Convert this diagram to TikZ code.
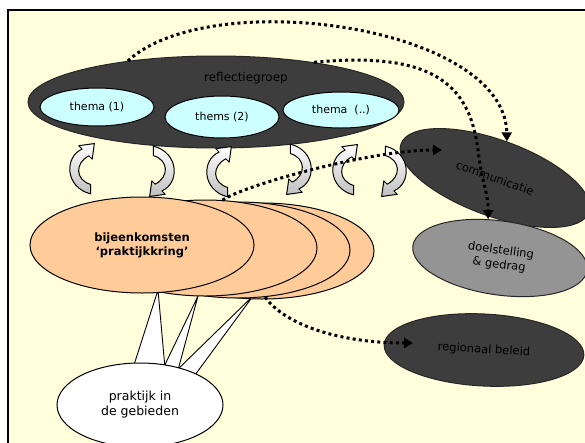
\documentclass[tikz,border=0pt]{standalone}
\usepackage{fontspec}
\setmainfont{DejaVu Sans}
\usetikzlibrary{shapes.geometric,arrows.meta}
\definecolor{paper}{HTML}{FFFFDC}
\definecolor{peach}{HTML}{FFCC99}
\definecolor{ice}{HTML}{CCFFFF}
\definecolor{ribbon}{HTML}{C0C0C0}

\begin{document}
\begin{tikzpicture}[x=1pt,y=-1pt,
    oval/.style={ellipse,draw,line width=1pt,inner sep=0pt,align=center},
    dark/.style={oval,draw=black!85,fill=black!76,font=\fontsize{11.5}{14}\selectfont},
    theme/.style={oval,fill=ice,minimum width=114pt,minimum height=38pt,font=\fontsize{11}{13}\selectfont},
    kring/.style={oval,fill=peach,minimum width=224pt,minimum height=96pt},
    dotline/.style={line width=3pt,dash pattern=on 3pt off 3.2pt,-{Triangle[length=9pt,width=10pt]}},
    wedge/.style={fill=white,draw,line width=0.9pt,line join=round},
    pics/twist/.style 2 args={code={
        \draw[line width=1pt,line join=round,top color=#1,bottom color=#2] (14,48.5) .. controls (-11,42) and (-11,13) .. (5.8,5.8)
            -- (2.6,2.6) -- (17.5,0.5) -- (15.4,15.4) -- (12.2,12.2) .. controls (-1,19) and (-1,35) .. (14,39.5) -- cycle;
    }}
]
\useasboundingbox (0,0) rectangle (585,442);
\fill[white] (0,0) rectangle (585,442);
\fill[paper] (8,10) rectangle (590,450);
\draw[line width=1.6pt] (8,450) -- (8,10) -- (590,10);

% reflection group with its themes
\node[dark,minimum width=376pt,minimum height=92pt] (refl) at (216,102) {};
\node[font=\fontsize{12}{14}\selectfont] (refltxt) at (246,78) {reflectiegroep};
\node[theme] (t1) at (97,107) {thema (1)};
\node[theme,minimum height=42pt] (t2) at (222,117) {thems (2)};
\node[theme,minimum width=116pt,minimum height=36pt] (t3) at (341,110) {thema \ (..)};

% outputs on the right
\node[dark,minimum width=200pt,minimum height=76pt,rotate=-20] (comm) at (495,178) {communicatie};
\node[dark,fill=black!42,minimum width=176pt,minimum height=74pt,rotate=-8] (doel) at (500,258) {doelstelling\\\& gedrag};
\node[dark,minimum width=200pt,minimum height=72pt,rotate=-3] (beleid) at (484,350) {regionaal beleid};
\coordinate (commin) at (442,150);
\coordinate (belin) at (413,343);

% links to the practice
\draw[wedge] (253,296) -- (175,372) -- (195,375) -- cycle;
\draw[wedge] (198,296) -- (160,375) -- (178,370) -- cycle;
\draw[wedge] (158,290) -- (133,368) -- (165,368) -- cycle;

% meetings
\node[kring] (pk4) at (262,251) {};
\node[kring] (pk3) at (238,250) {};
\node[kring] (pk2) at (205,248) {};
\node[kring,font=\bfseries\fontsize{11.5}{14}\selectfont] (pk1) at (142,245) {bijeenkomsten\\‘praktijkkring’};

\node[oval,fill=white,minimum width=166pt,minimum height=84pt,font=\fontsize{12.5}{15}\selectfont] (prak) at (140,405) {praktijk in\\de gebieden};

% exchange between group and meetings
\pic[scale=1.05] at (76,143) {twist={white}{ribbon}};
\pic[scale=1.05,rotate=180] at (168,197) {twist={white}{ribbon}};
\pic[scale=1.05] at (213,146) {twist={white}{ribbon}};
\pic[scale=1.05,rotate=180] at (305,195) {twist={white}{ribbon}};
\pic[scale=1.05] at (339,144) {twist={white}{ribbon}};
\pic[scale=1.05,rotate=180] at (400,197) {twist={white}{ribbon}};

\draw[dotline] (refl.155) .. controls (210,-15) and (505,25) .. (comm.92);
\draw[dotline] (refl.22) .. controls (440,50) and (470,90) .. (478,150) .. controls (482,185) and (488,190) .. (doel.115);
\draw[dotline] (pk2.70) .. controls (245,185) and (370,150) .. (commin);
\draw[dotline] (pk3.300) .. controls (285,325) and (340,343) .. (belin);
\end{tikzpicture}
\end{document}
